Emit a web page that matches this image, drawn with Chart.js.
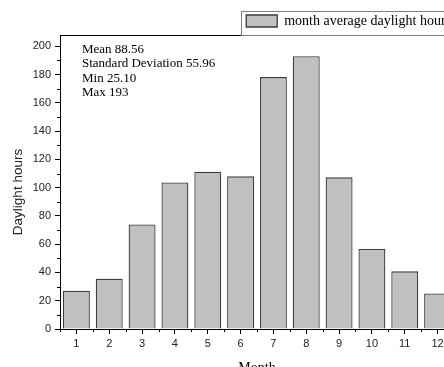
<!DOCTYPE html>
<html><head><meta charset="utf-8">
<script src="https://cdn.jsdelivr.net/npm/chart.js@4"></script>
<style>
html,body{margin:0;padding:0;overflow:hidden;background:#fff;width:444px;height:367px}
#wrap{position:absolute;left:0;top:0;width:454px;height:380px}
</style>
</head><body><div id="wrap"><canvas id="c" width="454" height="380"></canvas></div>
<script>
const months = ['1','2','3','4','5','6','7','8','9','10','11','12'];
const hours = [27, 35.6, 74, 103.7, 111.2, 108, 178.2, 193, 107.3, 56.6, 40.8, 25.1];
const seriesName = 'month average daylight hours';
const statsLines = ['Mean 88.56', 'Standard Deviation 55.96', 'Min 25.10', 'Max 193'];
const yTitle = 'Daylight hours';
const xTitle = 'Month';
const yMin = 0, yMax = 208, yStep = 20, yMinorStep = 10;

const decor = {
  id: 'decor',
  afterDraw(chart) {
    const {ctx, chartArea: a, scales: {x, y}} = chart;
    ctx.save();
    ctx.strokeStyle = '#000';
    ctx.lineWidth = 1;
    ctx.beginPath();
    // top and right frame
    ctx.moveTo(a.left, Math.round(a.top) + 0.5);
    ctx.lineTo(a.right, Math.round(a.top) + 0.5);
    ctx.moveTo(Math.round(a.right) - 0.5, a.top);
    ctx.lineTo(Math.round(a.right) - 0.5, a.bottom);
    // minor y ticks
    for (let v = yMinorStep; v < yMax; v += yStep) {
      const py = Math.round(y.getPixelForValue(v)) + 0.5;
      ctx.moveTo(a.left - 3, py);
      ctx.lineTo(a.left, py);
    }
    // minor x ticks at category boundaries
    const w = x.getPixelForValue(1) - x.getPixelForValue(0);
    for (let i = 0; i <= months.length; i++) {
      const px = Math.round(x.getPixelForValue(i) - w / 2) + 0.5;
      ctx.moveTo(px, a.bottom);
      ctx.lineTo(px, a.bottom + 3);
    }
    ctx.stroke();

    // legend frame
    const lg = chart.legend;
    if (lg && lg.legendHitBoxes && lg.legendHitBoxes[0]) {
      const hb = lg.legendHitBoxes[0];
      ctx.strokeStyle = '#808080';
      ctx.strokeRect(Math.round(hb.left - 5) + 0.5, Math.round(lg.top) + 0.5, 400, a.top - lg.top);
    }

    // stats text
    ctx.fillStyle = '#000';
    ctx.font = '13px "Liberation Serif"';
    ctx.textAlign = 'left';
    ctx.textBaseline = 'alphabetic';
    statsLines.forEach((s, i) => {
      ctx.fillText(s, a.left + 22, a.top + 17.5 + i * 14.6);
    });

    // y title
    ctx.translate(18.5, (a.top + a.bottom) / 2 + 10);
    ctx.rotate(-Math.PI / 2);
    ctx.font = '13.5px "Liberation Sans"';
    ctx.fillStyle = '#222';
    ctx.textAlign = 'center';
    ctx.textBaseline = 'middle';
    ctx.fillText(yTitle, 0, 0);
    ctx.restore();
  }
};

new Chart(document.getElementById('c'), {
  type: 'bar',
  data: {
    labels: months,
    datasets: [{
      label: seriesName,
      data: hours,
      backgroundColor: '#c0c0c0',
      borderColor: '#3c3c3c',
      borderWidth: 1.3,
      categoryPercentage: 1,
      barPercentage: 0.82
    }]
  },
  options: {
    responsive: false,
    animation: false,
    devicePixelRatio: 1,
    layout: {padding: {top: 11, left: 0, right: 0, bottom: 0}},
    plugins: {
      legend: {
        display: true, position: 'top', align: 'end', maxHeight: 24,
        labels: {boxWidth: 31, boxHeight: 12, padding: 3, color: '#000',
          font: {family: 'Liberation Serif', size: 14}}
      },
      tooltip: {enabled: false}
    },
    scales: {
      x: {
        offset: true,
        grid: {display: true, offset: false, drawOnChartArea: false, drawTicks: true, tickLength: 5, color: '#000', lineWidth: 1},
        border: {display: true, color: '#000', width: 1},
        ticks: {color: '#222', font: {family: 'Liberation Sans', size: 11}, padding: 3, maxRotation: 0, autoSkip: false},
        title: {display: true, text: xTitle, color: '#000', font: {family: 'Liberation Serif', size: 14}, padding: {top: 0, bottom: 3}},
        afterFit: s => { s.height = 51; }
      },
      y: {
        min: yMin, max: yMax,
        grid: {display: true, drawOnChartArea: false, drawTicks: true, tickLength: 5, color: '#000', lineWidth: 1},
        border: {display: true, color: '#000', width: 1},
        ticks: {stepSize: yStep, includeBounds: false, color: '#222', font: {family: 'Liberation Sans', size: 11}, padding: 4},
        afterFit: s => { s.width = 60; }
      }
    }
  },
  plugins: [decor]
});
</script>
</body></html>
